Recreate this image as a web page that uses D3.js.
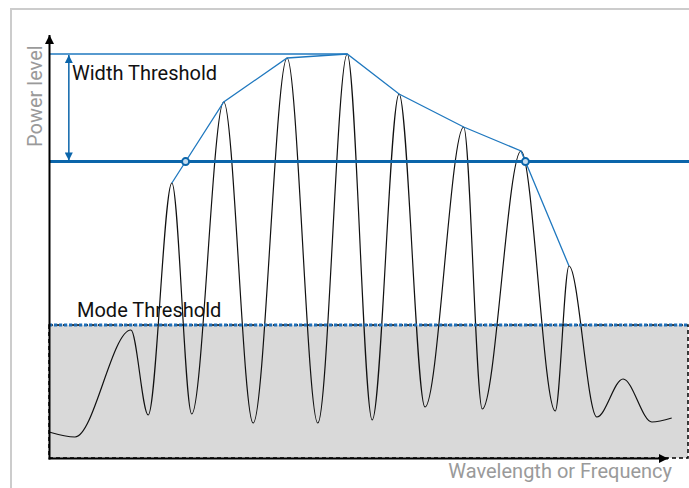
<!DOCTYPE html>
<html>
<head>
<meta charset="utf-8">
<script src="https://cdn.jsdelivr.net/npm/d3@7"></script>
<style>
  html, body { margin: 0; padding: 0; background: #fff; }
  svg { display: block; font-family: Roboto, "Noto Sans", sans-serif; }
</style>
</head>
<body>
<svg id="chart" width="689" height="488"></svg>
<script>
// ---- data (arbitrary units) ----
const waveX = [0, 4.06, 12.8, 15.5, 19.2, 22.3, 27.3, 31.9, 37.2, 42.0, 46.6, 50.5, 54.7, 58.75, 64.8, 67.7, 73.75, 79.1, 81.25, 85.6, 89.7, 94.2, 97.3];
const powerY = [6.5, 5.25, 32, 10.75, 68.75, 11, 89, 8.75, 100, 8.75, 101, 9.5, 91, 12.75, 82.75, 12.25, 76.75, 11.75, 48, 10.25, 19.75, 9, 10];
const modePeakIndex = [4, 6, 8, 10, 12, 14, 16, 18];
const widthThreshold = 74.1;
const modeThreshold = 33.25;
const xLabel = "Wavelength or Frequency";
const yLabel = "Power level";
const widthLabel = "Width Threshold";
const modeLabel = "Mode Threshold";

// ---- layout ----
const svg = d3.select("#chart");
const x = d3.scaleLinear().domain([0, 100]).range([49, 689]);
const y = d3.scaleLinear().domain([0, 100]).range([458, 58]);
const xAxisEnd = 668, yAxisTop = 35;
const thinBlue = "#1f78bf", darkBlue = "#0b65aa";

// outer frame
svg.append("rect").attr("x", 11).attr("y", 9).attr("width", 720).attr("height", 520)
  .attr("fill", "none").attr("stroke", "#cccccc").attr("stroke-width", 2);

// markers
const defs = svg.append("defs");
function marker(id, color, w, h) {
  defs.append("marker").attr("id", id).attr("viewBox", "0 0 10 10")
    .attr("refX", 10).attr("refY", 5).attr("markerUnits", "userSpaceOnUse")
    .attr("markerWidth", w).attr("markerHeight", h).attr("orient", "auto-start-reverse")
    .append("path").attr("d", "M0,0L10,5L0,10Z").attr("fill", color);
}
marker("arrBlack", "#000", 10, 9);
marker("arrBlue", darkBlue, 9, 8);

// mode threshold region (gray)
svg.append("rect")
  .attr("x", x(0)).attr("y", y(modeThreshold))
  .attr("width", 688 - x(0)).attr("height", y(0) - y(modeThreshold))
  .attr("fill", "#d9d9d9").attr("stroke", "#000").attr("stroke-width", 1.5)
  .attr("stroke-dasharray", "4,3");

// spectrum curve
const pts = waveX.map((d, i) => [d, powerY[i]]);
svg.append("path").datum(pts)
  .attr("d", d3.line().x(d => x(d[0])).y(d => y(d[1])).curve(d3.curveMonotoneX))
  .attr("fill", "none").attr("stroke", "#111").attr("stroke-width", 1.2);

// mode threshold line (dotted blue)
svg.append("line").attr("x1", x(0)).attr("x2", 688)
  .attr("y1", y(modeThreshold)).attr("y2", y(modeThreshold))
  .attr("stroke", "#1f6fb8").attr("stroke-width", 3.2).attr("stroke-dasharray", "3.2,1.8");

// envelope
const env = modePeakIndex.map(i => [waveX[i], powerY[i]]);
const maxPeak = d3.max(env, d => d[1]);
const maxPeakX = env.find(d => d[1] === maxPeak)[0];
svg.append("path").datum(env)
  .attr("d", d3.line().x(d => x(d[0])).y(d => y(d[1])))
  .attr("fill", "none").attr("stroke", thinBlue).attr("stroke-width", 1.3);

// top reference line at max peak
svg.append("line").attr("x1", x(0)).attr("x2", x(maxPeakX))
  .attr("y1", y(maxPeak)).attr("y2", y(maxPeak))
  .attr("stroke", thinBlue).attr("stroke-width", 1.3);

// width threshold line
svg.append("line").attr("x1", x(0)).attr("x2", 689)
  .attr("y1", y(widthThreshold)).attr("y2", y(widthThreshold))
  .attr("stroke", darkBlue).attr("stroke-width", 3);

// double arrow
const arrowX = x(3.1);
svg.append("line").attr("x1", arrowX).attr("x2", arrowX)
  .attr("y1", y(maxPeak) + 1).attr("y2", y(widthThreshold) - 1)
  .attr("stroke", darkBlue).attr("stroke-width", 1.5)
  .attr("marker-start", "url(#arrBlue)").attr("marker-end", "url(#arrBlue)");

// intersections
const cross = [];
for (let i = 0; i < env.length - 1; i++) {
  const [x0, y0] = env[i], [x1, y1] = env[i + 1];
  if ((y0 - widthThreshold) * (y1 - widthThreshold) < 0) {
    const t = (widthThreshold - y0) / (y1 - y0);
    cross.push([x0 + t * (x1 - x0), widthThreshold]);
  }
}
svg.selectAll("circle.cross").data(cross).enter().append("circle")
  .attr("cx", d => x(d[0])).attr("cy", d => y(d[1])).attr("r", 3.5)
  .attr("fill", "#c4dcf0").attr("stroke", darkBlue).attr("stroke-width", 2);

// axes
svg.append("line").attr("x1", x(0) + 0.5).attr("x2", x(0) + 0.5)
  .attr("y1", y(0) + 1.5).attr("y2", yAxisTop)
  .attr("stroke", "#000").attr("stroke-width", 2).attr("marker-end", "url(#arrBlack)");
svg.append("line").attr("x1", x(0) - 0.5).attr("x2", xAxisEnd)
  .attr("y1", y(0) + 0.5).attr("y2", y(0) + 0.5)
  .attr("stroke", "#000").attr("stroke-width", 2).attr("marker-end", "url(#arrBlack)");

// labels
svg.append("text").attr("x", 72).attr("y", 80).attr("font-size", 20).attr("fill", "#111").text(widthLabel);
svg.append("text").attr("x", 77).attr("y", 317).attr("font-size", 20).attr("fill", "#111").text(modeLabel);
svg.append("text").attr("transform", "translate(42,147) rotate(-90)")
  .attr("font-size", 20).attr("fill", "#9a9a9a").text(yLabel);
svg.append("text").attr("x", 672).attr("y", 478).attr("text-anchor", "end")
  .attr("font-size", 20).attr("fill", "#9a9a9a").text(xLabel);
</script>
</body>
</html>
